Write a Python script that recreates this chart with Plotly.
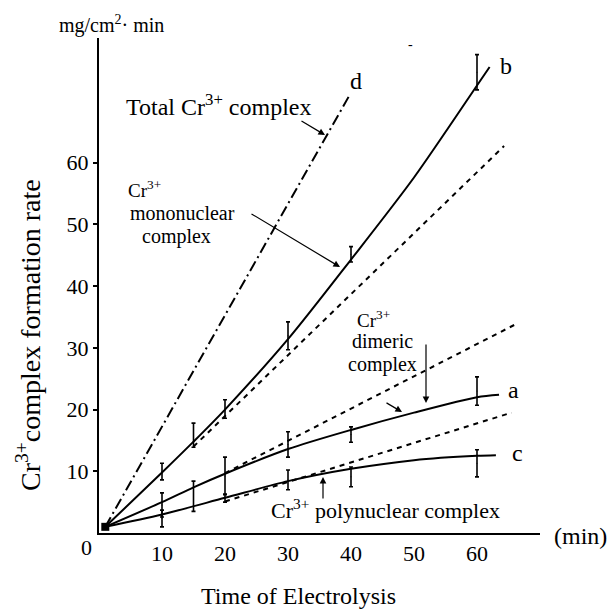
import plotly.graph_objects as go

# ---- data ----
t_b = [1, 10, 15, 20, 30, 40, 50, 60, 62]
rate_b = [1, 9.8, 14.8, 20.0, 31.4, 44.3, 57.6, 72.5, 75.5]
t_a = [1, 10, 15, 20, 30, 40, 50, 60, 63.5]
rate_a = [1, 5.0, 7.4, 9.6, 13.6, 16.7, 19.5, 22.0, 22.4]
t_c = [1, 10, 20, 30, 40, 50, 60, 63]
rate_c = [1, 3.0, 5.7, 8.4, 10.4, 11.8, 12.5, 12.6]
t_d = [1, 39.8]
rate_d = [1, 71.0]

tan_b_t = [15, 64.3]
tan_b_r = [14.0, 62.7]
tan_a_t = [20, 65.9]
tan_a_r = [9.7, 33.7]
tan_c_t = [20, 65.5]
tan_c_r = [5.1, 19.5]

eb_b_t = [10, 15, 20, 30, 40, 60]
eb_b_hi = [11.3, 17.8, 21.6, 34.2, 46.4, 77.5]
eb_b_lo = [8.6, 13.9, 18.6, 29.7, 43.9, 71.8]
eb_a_t = [10, 15, 20, 30, 40, 60]
eb_a_hi = [6.5, 8.4, 12.3, 16.4, 17.2, 25.3]
eb_a_lo = [2.6, 3.5, 6.2, 12.3, 14.7, 20.7]
eb_c_t = [10, 20, 30, 40, 60]
eb_c_hi = [3.7, 6.3, 10.2, 10.7, 13.5]
eb_c_lo = [1.0, 5.0, 7.0, 7.5, 9.1]

x_ticks = [10, 20, 30, 40, 50, 60]
y_ticks = [10, 20, 30, 40, 50, 60]

FONT = "Liberation Serif, Times New Roman, serif"
W, H = 611, 610
ML, MR, MT, MB = 99, 71, 38, 77
PW, PH = W - ML - MR, H - MT - MB


def P(px, py):
    return dict(xref="paper", yref="paper",
                x=(px - ML) / PW, y=(H - MB - py) / PH)


fig = go.Figure()

# curves
for t, r in [(t_b, rate_b), (t_a, rate_a), (t_c, rate_c)]:
    fig.add_trace(go.Scatter(x=t, y=r, mode="lines",
                             line=dict(color="black", width=2, shape="spline", smoothing=0.8),
                             showlegend=False, hoverinfo="skip"))
fig.add_trace(go.Scatter(x=t_d, y=rate_d, mode="lines",
                         line=dict(color="black", width=2, dash="11px,4px,2px,4px"),
                         showlegend=False))
for t, r in [(tan_b_t, tan_b_r), (tan_a_t, tan_a_r), (tan_c_t, tan_c_r)]:
    fig.add_trace(go.Scatter(x=t, y=r, mode="lines",
                             line=dict(color="black", width=2, dash="5px,5px"),
                             showlegend=False))

# error bars
for t, hi, lo in [(eb_b_t, eb_b_hi, eb_b_lo), (eb_a_t, eb_a_hi, eb_a_lo), (eb_c_t, eb_c_hi, eb_c_lo)]:
    mid = [(h + l) / 2 for h, l in zip(hi, lo)]
    err = [(h - l) / 2 for h, l in zip(hi, lo)]
    fig.add_trace(go.Scatter(x=t, y=mid, mode="markers",
                             marker=dict(size=1, color="black"),
                             error_y=dict(type="data", array=err, visible=True,
                                          color="black", thickness=1.6, width=2),
                             showlegend=False))

# origin blob
fig.add_trace(go.Scatter(x=[1], y=[1], mode="markers",
                         marker=dict(symbol="square", size=8, color="black"), showlegend=False))

ann = []
def txt(text, px, py, size=19, **kw):
    d = P(px, py)
    d.update(text=text, showarrow=False, xanchor="center", yanchor="middle",
             font=dict(family=FONT, size=size, color="black"))
    d.update(kw)
    ann.append(d)

def arrow(hx, hy, tx, ty):
    d = P(hx, hy)
    d.update(text="", showarrow=True, ax=tx - hx, ay=ty - hy, arrowhead=2, arrowsize=1.1,
             arrowwidth=1.2, arrowcolor="black")
    ann.append(d)

txt("mg/cm<sup>2</sup>· min", 111, 24, size=20)
txt("Total Cr<sup>3+</sup> complex", 218, 105, size=24)
txt("Cr<sup>3+</sup>", 144, 189, size=19)
txt("mononuclear", 182, 213, size=20)
txt("complex", 176, 236, size=20)
txt("Cr<sup>3+</sup>", 373, 319, size=19)
txt("dimeric", 382, 341, size=20)
txt("complex", 382, 364, size=20)
txt("Cr<sup>3+</sup> polynuclear complex", 385, 509, size=22)
txt("d", 356, 81, size=24)
txt("b", 506, 66, size=24)
txt("a", 513, 390, size=24)
txt("c", 517, 453, size=24)
txt("-", 410, 45, size=14)
txt("(min)", 580, 536, size=24)
txt("0", 86, 547, size=22)
txt("Time of Electrolysis", 298, 596, size=24)
txt("Cr<sup>3+</sup>complex formation rate", 28, 335, size=28, textangle=-90)

arrow(325, 135, 300, 120)
arrow(340, 267, 250, 213)
arrow(426, 403, 426, 343)
arrow(402, 412, 385, 402)
arrow(323, 477, 323, 500)

fig.update_layout(
    width=W, height=H,
    margin=dict(l=ML, r=MR, t=MT, b=MB),
    paper_bgcolor="white", plot_bgcolor="white",
    font=dict(family=FONT, size=22, color="black"),
    showlegend=False,
    annotations=ann,
    xaxis=dict(range=[0, 70], showline=True, linecolor="black", linewidth=2,
               tickvals=x_ticks, ticks="", showgrid=False, zeroline=False,
               tickfont=dict(family=FONT, size=22)),
    yaxis=dict(range=[0, 80.2], showline=True, linecolor="black", linewidth=2,
               tickvals=y_ticks, ticks="outside", ticklen=4, tickwidth=1.5, tickcolor="black",
               showgrid=False, zeroline=False, tickfont=dict(family=FONT, size=22)),
)

fig.write_html("out.html", config={"displayModeBar": False},
               post_script="document.body.style.margin='0px';")
